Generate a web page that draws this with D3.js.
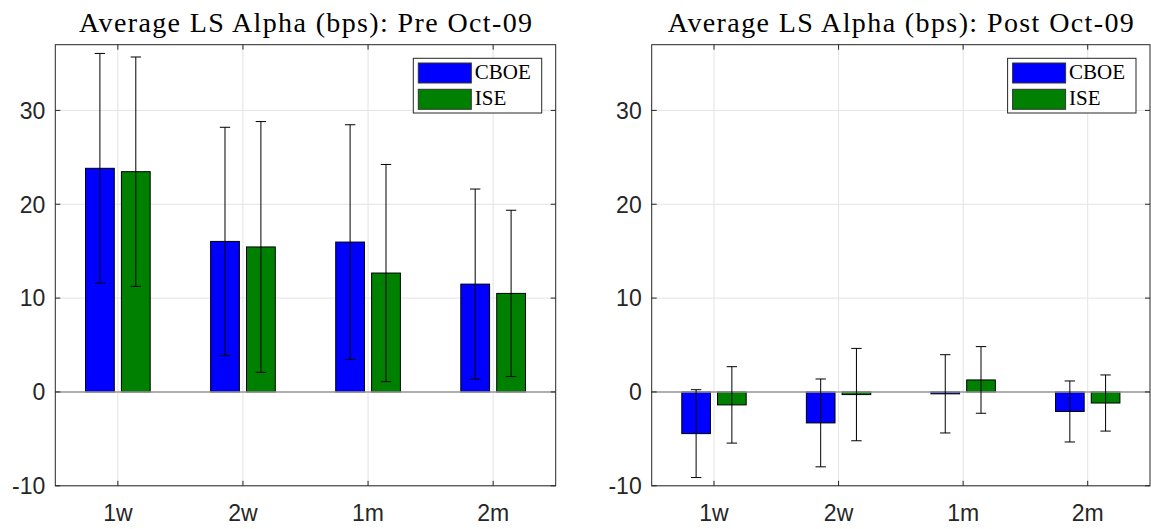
<!DOCTYPE html>
<html>
<head>
<meta charset="utf-8">
<script src="https://cdn.jsdelivr.net/npm/d3@7"></script>
<style>
  body { margin: 0; background: #ffffff; }
  svg { display: block; }
</style>
</head>
<body>
<svg id="chart"></svg>
<script>
// horizons on the x axis
const categories = ["1w", "2w", "1m", "2m"]
const seriesNames = ["CBOE", "ISE"]
const yTicks = [-10, 0, 10, 20, 30]

// pre Oct-09 means and half-widths of the error bars
const cboePre = [23.83, 16.04, 15.97, 11.49]
const isePre = [23.47, 15.45, 12.67, 10.5]
const cboePreErr = [12.24, 12.16, 12.5, 10.13]
const isePreErr = [12.22, 13.36, 11.57, 8.86]

// post Oct-09
const cboePost = [-4.44, -3.3, -0.2, -2.08]
const isePost = [-1.38, -0.28, 1.28, -1.18]
const cboePostErr = [4.68, 4.68, 4.17, 3.25]
const isePostErr = [4.07, 4.92, 3.55, 2.99]

const width = 1151
const height = 529
const colors = ["#0000FF", "#008000"]
const frameColor = "#262626"

const svg = d3.select("#chart")
    .attr("width", width)
    .attr("height", height)
    .style("background", "#FFFFFF")

const panels = [
    { title: "Average LS Alpha (bps): Pre Oct-09", left: 55.3, right: 555.7, titleLen: 453,
      values: [cboePre, isePre], errs: [cboePreErr, isePreErr] },
    { title: "Average LS Alpha (bps): Post Oct-09", left: 651.7, right: 1150, titleLen: 466,
      values: [cboePost, isePost], errs: [cboePostErr, isePostErr] }
]

const axTop = 44.7
const axBottom = 485.8
const barOffset = 0.1435
const barWidth = 0.23
const capHalf = 5.2
const tickLen = 5

panels.forEach((p) => {
    const g = svg.append("g")

    const x = d3.scaleLinear().domain([0.5, categories.length + 0.5]).range([p.left, p.right])
    const y = d3.scaleLinear().domain([-10, 37]).range([axBottom, axTop])

    // grid
    g.append("g")
        .selectAll("line")
        .data(categories)
        .enter()
        .append("line")
        .attr("x1", (d, i) => x(i + 1))
        .attr("x2", (d, i) => x(i + 1))
        .attr("y1", axTop)
        .attr("y2", axBottom)
        .attr("stroke", "#e3e3e3")
        .attr("stroke-width", 1)

    g.append("g")
        .selectAll("line")
        .data(yTicks)
        .enter()
        .append("line")
        .attr("x1", p.left)
        .attr("x2", p.right)
        .attr("y1", (d) => y(d))
        .attr("y2", (d) => y(d))
        .attr("stroke", "#e3e3e3")
        .attr("stroke-width", 1)

    // bars
    const rows = []
    p.values.forEach((vals, s) => {
        vals.forEach((v, i) => {
            rows.push({ s: s, i: i, v: v, e: p.errs[s][i], cx: i + 1 + (s === 0 ? -barOffset : barOffset) })
        })
    })

    g.append("g")
        .selectAll("rect")
        .data(rows)
        .enter()
        .append("rect")
        .attr("x", (d) => x(d.cx - barWidth / 2))
        .attr("width", (d) => x(d.cx + barWidth / 2) - x(d.cx - barWidth / 2))
        .attr("y", (d) => y(Math.max(0, d.v)))
        .attr("height", (d) => Math.abs(y(d.v) - y(0)))
        .attr("fill", (d) => colors[d.s])
        .attr("stroke", "#000000")
        .attr("stroke-width", 1)

    // zero baseline
    g.append("line")
        .attr("x1", p.left)
        .attr("x2", p.right)
        .attr("y1", y(0))
        .attr("y2", y(0))
        .attr("stroke", "#999999")
        .attr("stroke-width", 1.5)

    // error bars
    const eb = g.append("g")
        .attr("stroke", "#000000")
        .attr("stroke-width", 1)
    eb.selectAll(".stem")
        .data(rows)
        .enter()
        .append("line")
        .attr("x1", (d) => x(d.cx))
        .attr("x2", (d) => x(d.cx))
        .attr("y1", (d) => y(d.v + d.e))
        .attr("y2", (d) => y(d.v - d.e))
    eb.selectAll(".capTop")
        .data(rows)
        .enter()
        .append("line")
        .attr("x1", (d) => x(d.cx) - capHalf)
        .attr("x2", (d) => x(d.cx) + capHalf)
        .attr("y1", (d) => y(d.v + d.e))
        .attr("y2", (d) => y(d.v + d.e))
    eb.selectAll(".capBottom")
        .data(rows)
        .enter()
        .append("line")
        .attr("x1", (d) => x(d.cx) - capHalf)
        .attr("x2", (d) => x(d.cx) + capHalf)
        .attr("y1", (d) => y(d.v - d.e))
        .attr("y2", (d) => y(d.v - d.e))

    // frame and inside ticks
    g.append("rect")
        .attr("x", p.left)
        .attr("y", axTop)
        .attr("width", p.right - p.left)
        .attr("height", axBottom - axTop)
        .attr("fill", "none")
        .attr("stroke", frameColor)
        .attr("stroke-width", 1)

    const ticks = g.append("g").attr("stroke", frameColor).attr("stroke-width", 1)
    categories.forEach((c, i) => {
        ticks.append("line").attr("x1", x(i + 1)).attr("x2", x(i + 1)).attr("y1", axBottom).attr("y2", axBottom - tickLen)
        ticks.append("line").attr("x1", x(i + 1)).attr("x2", x(i + 1)).attr("y1", axTop).attr("y2", axTop + tickLen)
    })
    yTicks.forEach((t) => {
        ticks.append("line").attr("x1", p.left).attr("x2", p.left + tickLen).attr("y1", y(t)).attr("y2", y(t))
        ticks.append("line").attr("x1", p.right).attr("x2", p.right - tickLen).attr("y1", y(t)).attr("y2", y(t))
    })

    // tick labels
    g.append("g")
        .selectAll("text")
        .data(categories)
        .enter()
        .append("text")
        .attr("x", (d, i) => x(i + 1))
        .attr("y", 521)
        .attr("text-anchor", "middle")
        .style("font-family", "'Liberation Sans', Arial, sans-serif")
        .style("font-size", "23px")
        .attr("fill", frameColor)
        .text((d) => d)

    g.append("g")
        .selectAll("text")
        .data(yTicks)
        .enter()
        .append("text")
        .attr("x", p.left - 10)
        .attr("y", (d) => y(d))
        .attr("dy", "0.36em")
        .attr("text-anchor", "end")
        .style("font-family", "'Liberation Sans', Arial, sans-serif")
        .style("font-size", "23px")
        .attr("fill", frameColor)
        .text((d) => d)

    // title
    g.append("text")
        .attr("x", (p.left + p.right) / 2)
        .attr("y", 32)
        .attr("text-anchor", "middle")
        .attr("textLength", p.titleLen)
        .attr("lengthAdjust", "spacing")
        .style("font-family", "'Liberation Serif', 'Times New Roman', serif")
        .style("font-size", "28px")
        .attr("fill", "#000000")
        .text(p.title)

    // legend
    const lx = p.right - 142.4
    const ly = axTop + 13.6
    const leg = g.append("g").attr("transform", `translate(${lx},${ly})`)
    leg.append("rect")
        .attr("width", 128.4)
        .attr("height", 54.7)
        .attr("fill", "#FFFFFF")
        .attr("stroke", frameColor)
        .attr("stroke-width", 1)
    seriesNames.forEach((name, s) => {
        leg.append("rect")
            .attr("x", 5)
            .attr("y", 4.7 + s * 26.3)
            .attr("width", 53)
            .attr("height", 20)
            .attr("fill", colors[s])
            .attr("stroke", "#333333")
            .attr("stroke-width", 1)
        leg.append("text")
            .attr("x", 61.5)
            .attr("y", 20.8 + s * 26.3)
            .style("font-family", "'Liberation Serif', 'Times New Roman', serif")
            .style("font-size", "21px")
            .attr("fill", "#000000")
            .text(name)
    })
})
</script>
</body>
</html>
